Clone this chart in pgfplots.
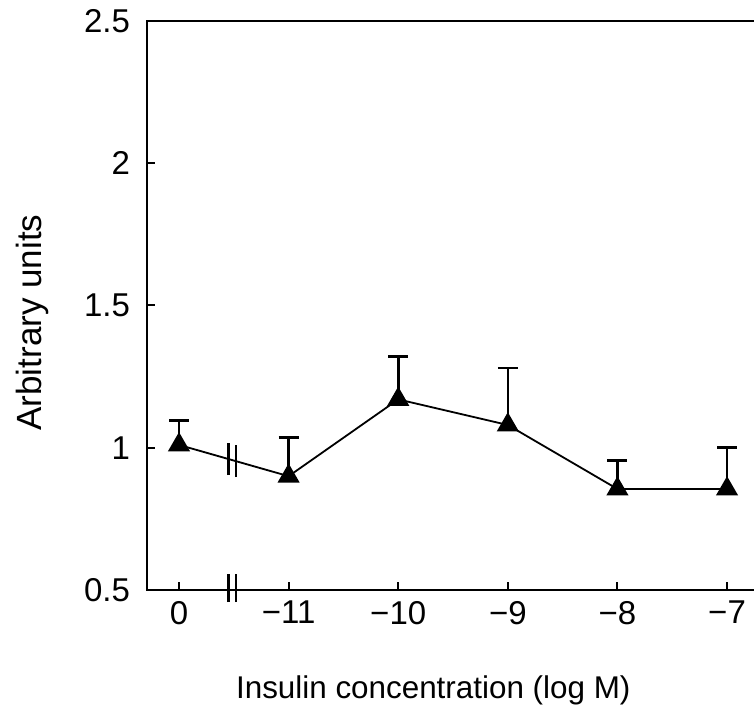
\documentclass[border=0pt]{standalone}
\usepackage{fontspec}
\setmainfont{Liberation Sans}
\usepackage{pgfplots}
\pgfplotsset{compat=1.18}
\begin{document}
\begin{tikzpicture}
\begin{axis}[
  at={(0,0)}, anchor=south west,
  scale only axis, width=311.5pt, height=284.5pt,
  xmin=-0.292, xmax=5.392, ymin=0.5, ymax=2.5,
  xtick={0,1,2,3,4,5}, xticklabels={0,−11,−10,−9,−8,−7},
  ytick={0.5,1,1.5,2,2.5}, yticklabels={0.5,1,1.5,2,2.5},
  tick pos=left, tick align=inside, major tick length=4pt,
  tick style={line width=1pt, black},
  axis line style={line width=1.1pt},
  ticklabel style={font=\fontsize{16.5}{18}\selectfont},
  yticklabel style={xshift=-5pt},
  xticklabel style={yshift=-2pt},
  xlabel={Insulin concentration (log M)},
  ylabel={Arbitrary units},
  xlabel style={font=\fontsize{15.7}{18}\selectfont, at={(axis description cs:0,-0.176)}, anchor=west, xshift=41pt},
  ylabel style={font=\fontsize{17.5}{20}\selectfont, at={(axis description cs:-0.1846,0.47)}, anchor=center},
  clip=false,
]
\addplot[black, line width=0.9pt, mark=triangle*, mark size=5.5pt,
  error bars/.cd, y dir=plus, y explicit,
  error bar style={line width=1.3pt},
  error mark options={rotate=90, mark size=5pt, line width=1.3pt}]
coordinates {
  (0,1.01) +- (0,0.085)
  (1,0.90) +- (0,0.135)
  (2,1.17) +- (0,0.15)
  (3,1.08) +- (0,0.20)
  (4,0.855) +- (0,0.10)
  (5,0.855) +- (0,0.145)
};
\draw[line width=1.2pt] ([yshift=-8pt]axis cs:0.45,0.96) -- ([yshift=8pt]axis cs:0.45,0.96);
\draw[line width=1.2pt] ([yshift=-8pt]axis cs:0.52,0.953) -- ([yshift=8pt]axis cs:0.52,0.953);
\draw[line width=1.2pt] ([yshift=-6pt]axis cs:0.45,0.5) -- ([yshift=8pt]axis cs:0.45,0.5);
\draw[line width=1.2pt] ([yshift=-6pt]axis cs:0.52,0.5) -- ([yshift=8pt]axis cs:0.52,0.5);
\end{axis}
\pgfresetboundingbox
\path[use as bounding box] (-73.5pt,-60.5pt) rectangle (303.5pt,295pt);
\end{tikzpicture}
\end{document}
